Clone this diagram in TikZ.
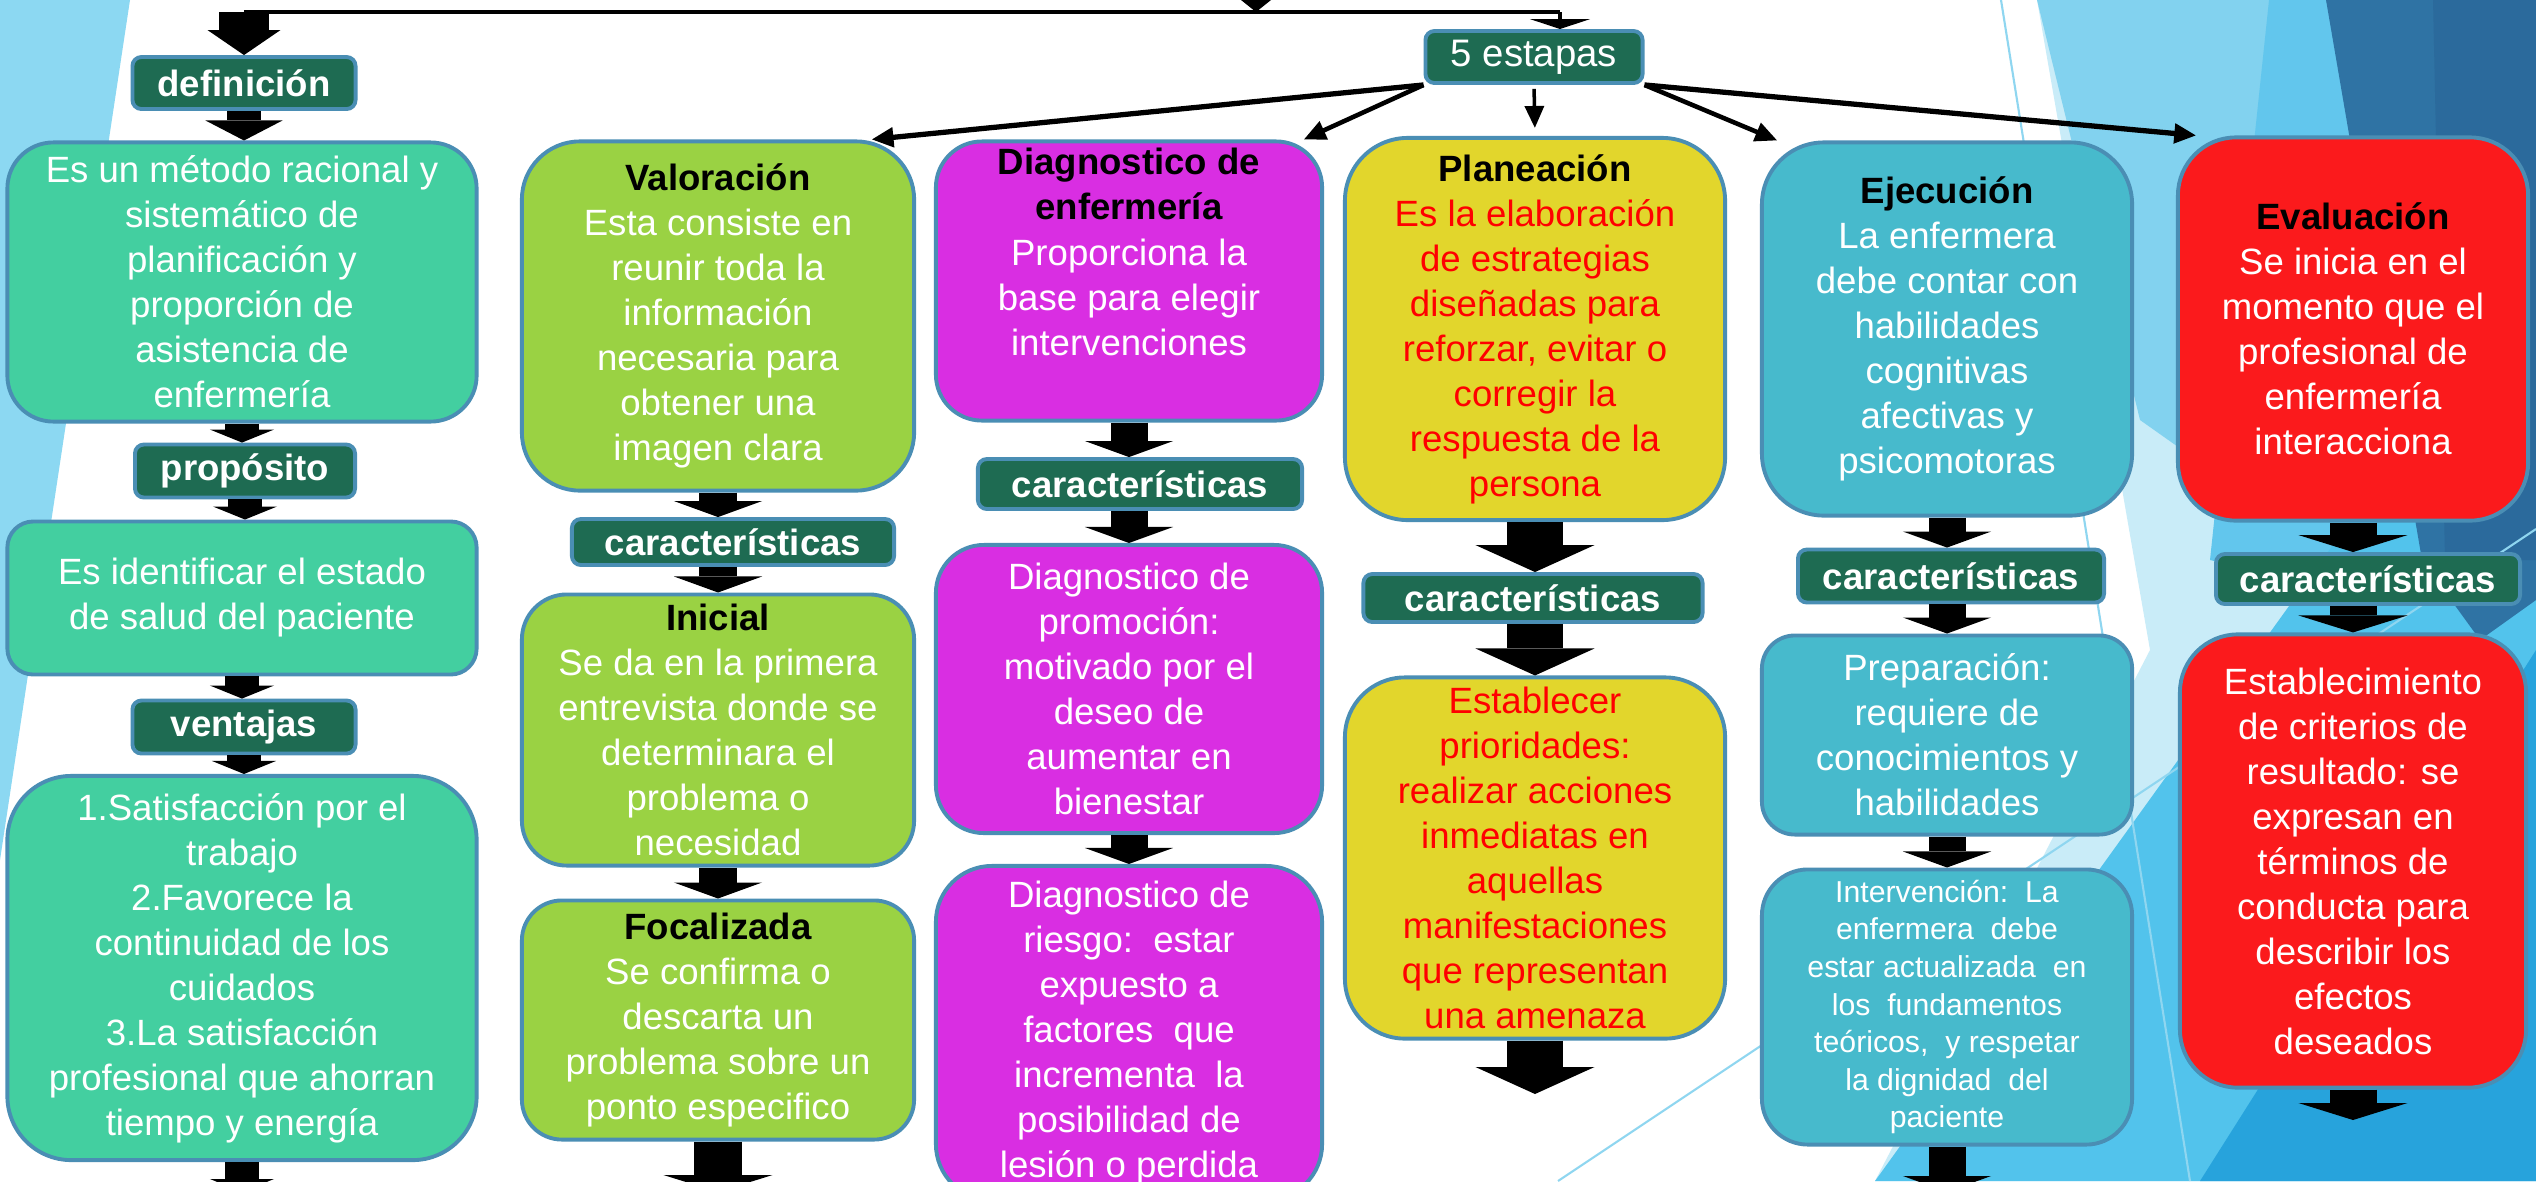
\documentclass[tikz,border=0pt]{standalone}
\usepackage{fontspec}
\setmainfont{Liberation Sans}
\usepackage{tikz}
\usetikzlibrary{arrows.meta}

\definecolor{tealbox}{HTML}{43CFA0}
\definecolor{greenbox}{HTML}{9AD243}
\definecolor{magbox}{HTML}{D92EE2}
\definecolor{yellowbox}{HTML}{E2D62C}
\definecolor{cyanbox}{HTML}{47BACC}
\definecolor{redbox}{HTML}{FB1A1C}
\definecolor{tagfill}{HTML}{1E6B52}
\definecolor{boxedge}{HTML}{4A8EB4}
\definecolor{pale}{HTML}{C9ECF8}
\definecolor{sky}{HTML}{82D2EF}
\definecolor{lightsky}{HTML}{62C6ED}
\definecolor{midsky}{HTML}{52C3EC}
\definecolor{deepsky}{HTML}{2F73A4}
\definecolor{navysky}{HTML}{2B6A9C}
\definecolor{brightsky}{HTML}{27A3DC}
\definecolor{leftsky}{HTML}{8CD8F2}
\definecolor{thinsky}{HTML}{8FD6F0}

\newcommand{\boxfont}{\fontsize{10.4}{12.8}\selectfont}
\newcommand{\smallboxfont}{\fontsize{8.6}{10.7}\selectfont}

\begin{document}
\begin{tikzpicture}[x=0.01cm, y=-0.01cm,
    stage/.style={draw=boxedge, line width=1.1pt, rounded corners=#1, inner sep=0pt,
                  align=center, text=white, font=\boxfont},
    stage/.default=0.5cm,
    tagbox/.style={draw=boxedge, line width=1.1pt, fill=tagfill, rounded corners=0.09cm,
                   inner sep=0pt, text=white, font=\boxfont\bfseries},
    blkdef/.style={line width=0.33cm, -{Triangle[width=0.77cm,length=0.2cm,line width=0pt]}},
    blksmall/.style={line width=0.33cm, -{Triangle[width=0.64cm,length=0.13cm,line width=0pt]}},
    blk/.style={line width=0.37cm, -{Triangle[width=0.88cm,length=0.16cm,line width=0pt]}},
    blkbig/.style={line width=0.56cm, -{Triangle[width=1.19cm,length=0.27cm,line width=0pt]}},
    blkwide/.style={line width=0.47cm, -{Triangle[width=1.09cm,length=0.17cm,line width=0pt]}},
    link/.style={line width=1.3pt, -{Triangle[width=0.19cm,length=0.22cm]}}]

    \useasboundingbox (0,0) rectangle (2536,1181);
    \begin{scope}
    \clip (0,0) rectangle (2536,1181);
    \fill[white] (0,0) rectangle (2536,1181);

    % background facets
    \fill[leftsky] (0,0) -- (130,0) -- (0,860) -- cycle;
    \fill[pale] (2037,0) -- (2536,0) -- (2536,1181) -- (1875,1181) -- (2150,650) -- cycle;
    \fill[sky] (2037,0) -- (2536,0) -- (2536,700) -- (2140,420) -- cycle;
    \fill[lightsky] (2269,0) -- (2536,0) -- (2536,640) -- (2210,560) -- cycle;
    \fill[midsky] (1875,1181) -- (2536,263) -- (2536,1181) -- cycle;
    \fill[brightsky] (2200,1181) -- (2536,650) -- (2536,1181) -- cycle;
    \fill[deepsky] (2326,0) -- (2536,0) -- (2536,600) -- (2480,640) -- (2422,560) -- cycle;
    \fill[navysky] (2433,0) -- (2536,0) -- (2536,560) -- (2445,560) -- cycle;
    \draw[thinsky, line width=0.6pt] (2001,0) -- (2190,1181);
    \draw[thinsky, line width=0.6pt] (1558,1181) -- (2536,529);

    % column 1
    \node[tagbox, minimum width=2.23cm, minimum height=0.52cm] (defin) at (244,83) {definición};
    \node[stage=0.46cm, fill=tealbox, minimum width=4.69cm, minimum height=2.79cm] (metodo) at (242,282)
        {Es un método racional y\\ sistemático de\\ planificación y\\ proporción de\\ asistencia de\\ enfermería};
    \node[tagbox, minimum width=2.20cm, minimum height=0.53cm] (prop) at (245,471) {propósito};
    \node[stage=0.26cm, fill=tealbox, minimum width=4.69cm, minimum height=1.53cm] (estado) at (242,598)
        {Es identificar el estado\\ de salud del paciente};
    \node[tagbox, minimum width=2.23cm, minimum height=0.53cm] (vent) at (244,727) {ventajas};
    \node[stage=0.64cm, fill=tealbox, minimum width=4.69cm, minimum height=3.84cm] (ventlist) at (242,968)
        {1.Satisfacción por el\\ trabajo\\ 2.Favorece la\\ continuidad de los\\ cuidados\\ 3.La satisfacción\\ profesional que ahorran\\ tiempo y energía};

    % column 2
    \node[stage=0.58cm, fill=greenbox, minimum width=3.92cm, minimum height=3.49cm] (valor) at (718,316)
        {{\color{black}\bfseries Valoración}\\ Esta consiste en\\ reunir toda la\\ información\\ necesaria para\\ obtener una\\ imagen clara};
    \node[tagbox, minimum width=3.22cm, minimum height=0.46cm] (carval) at (733,542) {características};
    \node[stage=0.45cm, fill=greenbox, minimum width=3.92cm, minimum height=2.71cm] (inicial) at (718,730)
        {{\color{black}\bfseries Inicial}\\ Se da en la primera\\ entrevista donde se\\ determinara el\\ problema o\\ necesidad};
    \node[stage=0.40cm, fill=greenbox, minimum width=3.92cm, minimum height=2.39cm] (focal) at (718,1020)
        {{\color{black}\bfseries Focalizada}\\ Se confirma o\\ descarta un\\ problema sobre un\\ ponto especifico};

    % column 3
    \node[stage=0.46cm, fill=magbox, minimum width=3.86cm, minimum height=2.79cm] (diag) at (1129,281)
        {{\color{black}\bfseries Diagnostico de}\\ {\color{black}\bfseries enfermería}\\ Proporciona la\\ base para elegir\\ intervenciones\\ \strut};
    \node[tagbox, minimum width=3.24cm, minimum height=0.50cm] (cardiag) at (1140,484) {características};
    \node[stage=0.48cm, fill=magbox, minimum width=3.86cm, minimum height=2.88cm] (prom) at (1129,689)
        {Diagnostico de\\ promoción:\\ motivado por el\\ deseo de\\ aumentar en\\ bienestar};
    \node[stage=0.56cm, fill=magbox, minimum width=3.86cm, minimum height=3.34cm] (riesgo) at (1129,1033)
        {Diagnostico de\\ riesgo:\ \ estar\\ expuesto a\\ factores\ \ que\\ incrementa\ \ la\\ posibilidad de\\ lesión o perdida};

    % column 4
    \node[stage=0.63cm, fill=yellowbox, text=red, minimum width=3.80cm, minimum height=3.82cm] (plan) at (1535,329)
        {{\color{black}\bfseries Planeación}\\ Es la elaboración\\ de estrategias\\ diseñadas para\\ reforzar, evitar o\\ corregir la\\ respuesta de la\\ persona};
    \node[tagbox, minimum width=3.39cm, minimum height=0.48cm] (carplan) at (1533,598) {características};
    \node[stage=0.60cm, fill=yellowbox, text=red, minimum width=3.80cm, minimum height=3.61cm] (prior) at (1535,858)
        {Establecer\\ prioridades:\\ realizar acciones\\ inmediatas en\\ aquellas\\ manifestaciones\\ que representan\\ una amenaza};

    % column 5
    \node[stage=0.62cm, fill=cyanbox, minimum width=3.70cm, minimum height=3.73cm] (ejec) at (1947,329)
        {{\color{black}\bfseries Ejecución}\\ La enfermera\\ debe contar con\\ habilidades\\ cognitivas\\ afectivas y\\ psicomotoras};
    \node[tagbox, minimum width=3.06cm, minimum height=0.53cm] (carejec) at (1951,576) {características};
    \node[stage=0.33cm, fill=cyanbox, minimum width=3.70cm, minimum height=1.99cm] (prep) at (1947,735)
        {Preparación:\\ requiere de\\ conocimientos y\\ habilidades};
    \node[stage=0.46cm, fill=cyanbox, font=\smallboxfont, minimum width=3.70cm, minimum height=2.75cm] (interv) at (1947,1007)
        {Intervención:\ \ La\\ enfermera\ \ debe\\ estar\ actualizada\ \ en\\ los\ \ fundamentos\\ teóricos,\ \ y respetar\\ la dignidad\ \ del\\ paciente};

    % column 6
    \node[stage=0.58cm, fill=redbox, minimum width=3.50cm, minimum height=3.83cm] (eval) at (2353,329)
        {{\color{black}\bfseries Evaluación}\\ Se inicia en el\\ momento que el\\ profesional de\\ enfermería\\ interacciona};
    \node[tagbox, minimum width=3.04cm, minimum height=0.50cm] (careval) at (2368,579) {características};
    \node[stage=0.58cm, fill=redbox, minimum width=3.46cm, minimum height=4.53cm] (crit) at (2353,861)
        {Establecimiento\\ de criterios de\\ resultado: se\\ expresan en\\ términos de\\ conducta para\\ describir los\\ efectos\\ deseados};

    % top
    \node[tagbox, font=\fontsize{10.9}{13}\selectfont, minimum width=2.17cm, minimum height=0.52cm] (estapas) at (1534,57) {5 estapas};
    \coordinate (entry) at (1256,-40);
    \coordinate (hub) at (1256,12);
    \coordinate (turn) at (1560,12);
    \draw[line width=0.2cm, -{Triangle[width=0.5cm,length=0.2cm,line width=0pt]}] (entry) -- (hub);
    \draw[line width=1.3pt] (defin.north |- hub) -- (turn);
    \draw[line width=0.49cm, -{Triangle[width=0.73cm,length=0.25cm,line width=0pt]}] (defin.north |- hub) -- (defin.north);
    \draw[line width=1.3pt, -{Triangle[width=0.6cm,length=0.1cm]}] (turn) -- (turn |- estapas.north);

    \draw[link, line width=1.5pt] (estapas.south west) -- (valor.49);
    \draw[link] (estapas.south west) -- (diag.39);
    \draw[link, line width=1pt, shorten <=0.04cm, shorten >=0.08cm] (estapas.south) -- (plan.north);
    \draw[link] (estapas.south east) -- (ejec.132);
    \draw[link, line width=1.5pt] (estapas.south east) -- (eval.129);

    % block arrows
    \coordinate (foot1) at (242,1192);
    \coordinate (foot2) at (718,1192);
    \coordinate (foot4) at (1535,1094);
    \coordinate (foot5) at (1947,1192);
    \coordinate (foot6) at (2353,1120);

    \draw[blkdef] (defin.south) -- (defin.south |- metodo.north);
    \draw[blksmall] (metodo.south) -- (metodo.south |- prop.north);
    \draw[blksmall] (prop.south) -- (prop.south |- estado.north);
    \draw[blksmall] (estado.south) -- (estado.south |- vent.north);
    \draw[blksmall] (vent.south) -- (vent.south |- ventlist.north);
    \draw[blksmall] (ventlist.south) -- (foot1);

    \draw[blk] (valor.south) -- (valor.south |- carval.north);
    \draw[blk] (valor.south |- carval.south) -- (inicial.north);
    \draw[blk] (inicial.south) -- (focal.north);
    \draw[blkwide] (focal.south) -- (foot2);

    \draw[blk] (diag.south) -- (diag.south |- cardiag.north);
    \draw[blk] (diag.south |- cardiag.south) -- (prom.north);
    \draw[blk] (prom.south) -- (riesgo.north);

    \draw[blkbig] (plan.south) -- (plan.south |- carplan.north);
    \draw[blkbig] (plan.south |- carplan.south) -- (prior.north);
    \draw[blkbig] (prior.south) -- (foot4);

    \draw[blk] (ejec.south) -- (ejec.south |- carejec.north);
    \draw[blk] (ejec.south |- carejec.south) -- (prep.north);
    \draw[blk] (prep.south) -- (interv.north);
    \draw[blk] (interv.south) -- (foot5);

    \draw[blkwide] (eval.south) -- (eval.south |- careval.north);
    \draw[blkwide] (eval.south |- careval.south) -- (crit.north);
    \draw[blkwide] (crit.south) -- (foot6);
    \end{scope}
\end{tikzpicture}
\end{document}
